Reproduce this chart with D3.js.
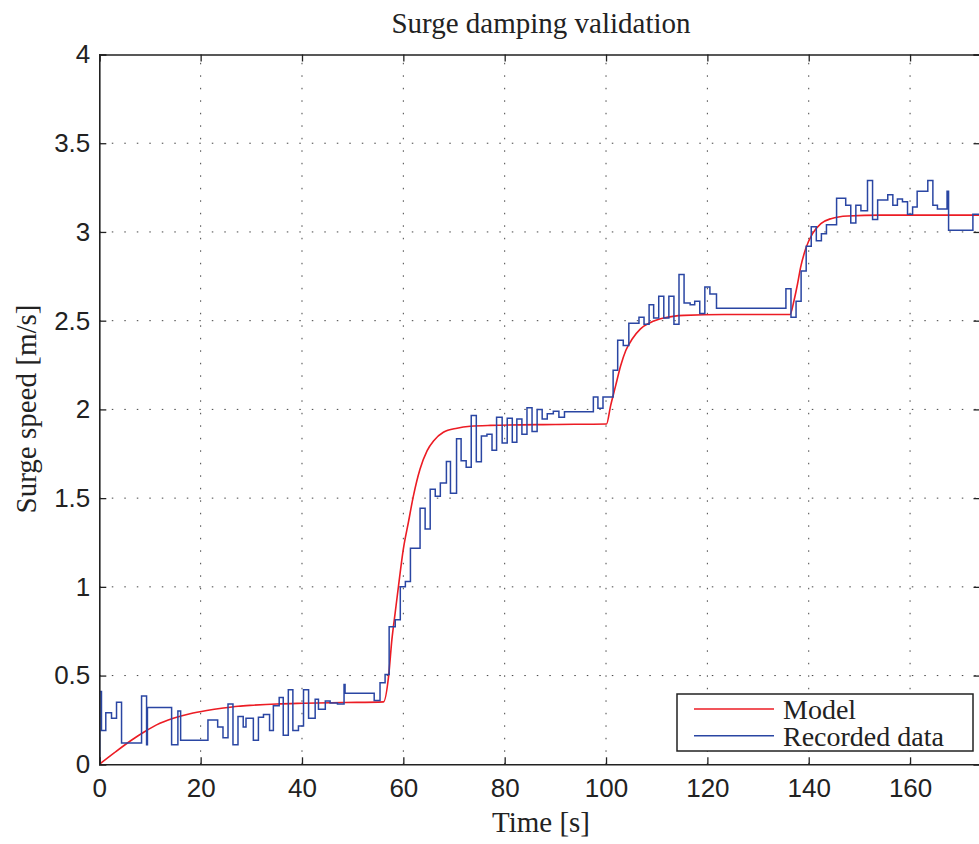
<!DOCTYPE html>
<html>
<head>
<meta charset="utf-8">
<script src="https://cdn.jsdelivr.net/npm/d3@7"></script>
<style>
	body { margin: 0; background: #fff; }
	.serif { font-family: "Liberation Serif", serif; font-size: 29px; fill: #222; }
	.legend-text { font-size: 28px; }
	.tick text { font-family: "Liberation Sans", Arial, sans-serif; font-size: 26px; fill: #222; }
</style>
</head>
<body>
<svg class="chart"></svg>
<script>

// time [s] and speed [m/s] of the model response
var modelTime = [0, 3, 6.4, 9, 11.3, 14.6, 17.9, 21.2, 24.5, 27.4, 30.4, 35, 40.3, 48, 56.1,
	57.1, 57.75, 58.4, 59.05, 60, 61, 62, 63.3, 64.7, 66, 67.9, 70.6, 73.2, 77.2, 90, 100.1,
	100.9, 101.9, 102.9, 103.9, 105.2, 106.8, 108.8, 111.4, 115.4, 123.3, 136.3,
	137.1, 137.8, 138.4, 139.4, 140.75, 142.4, 144.4, 147.7, 154.2, 173.9];
var modelSpeed = [0, 0.066, 0.137, 0.185, 0.222, 0.259, 0.285, 0.303, 0.317, 0.327, 0.333, 0.34, 0.344, 0.348, 0.352,
	0.498, 0.705, 0.856, 1.006, 1.213, 1.364, 1.514, 1.664, 1.768, 1.824, 1.871, 1.894, 1.905, 1.91, 1.915, 1.918,
	2.02, 2.134, 2.247, 2.332, 2.398, 2.454, 2.49, 2.515, 2.53, 2.535, 2.535,
	2.614, 2.708, 2.8, 2.905, 2.99, 3.047, 3.075, 3.09, 3.095, 3.095];

// recorded data, held constant between samples
var recTime = [0, 0.1, 0.43, 1.28, 2.41, 3.4, 4.39, 8.34, 9.33, 9.5, 14.27, 15.51, 16.05, 21.44, 23.36,
	24.41, 25.4, 26.38, 27.37, 28.4, 28.95, 30.4, 31.4, 32.4, 33.6, 34.35, 35.5, 36.3, 37.3, 38.2,
	39.3, 40.3, 41.3, 42.6, 43.25, 44.6, 45.55, 47, 48.3, 48.5, 54.25, 55.4, 56.4, 57.2, 58.4,
	59.4, 60.4, 61.4, 63.3, 64.3, 65.3, 66.3, 67.3, 68.5, 69.3, 70.5, 71.4, 72.4, 73.4, 74.4,
	75.4, 76.5, 77.5, 78.4, 79.5, 80.5, 81.5, 82.4, 83.4, 84.4, 85.4, 86.4, 87.4, 88.4, 89.6,
	90.7, 91.8, 97.5, 98.4, 99.4, 101.4, 102.3, 103.4, 104.5, 106.5, 107.5, 108.5, 109.4, 110.4,
	111.4, 112.4, 113.4, 114.4, 115.4, 116.6, 117.5, 118.5, 119.5, 120.5, 121.8, 135.5, 136.5,
	137.5, 138.5, 139.5, 140.5, 141.5, 142.5, 143.5, 145.5, 147.3, 148.3, 149.3, 150.3, 151.6,
	152.6, 153.6, 154.6, 155.6, 156.6, 157.5, 158.5, 159.5, 160.5, 161.4, 162.5, 163.5, 164.5,
	165.4, 167.3, 167.6, 172.4, 173.9];
var recSpeed = [0, 0.41, 0.19, 0.29, 0.26, 0.35, 0.12, 0.385, 0.11, 0.32, 0.11, 0.3, 0.135, 0.25, 0.21,
	0.15, 0.34, 0.11, 0.27, 0.21, 0.26, 0.135, 0.265, 0.28, 0.19, 0.33, 0.376, 0.164, 0.42, 0.19,
	0.216, 0.42, 0.26, 0.366, 0.31, 0.357, 0.345, 0.34, 0.45, 0.4, 0.36, 0.46, 0.506, 0.775, 0.814,
	1.0, 1.03, 1.217, 1.443, 1.326, 1.55, 1.51, 1.585, 1.706, 1.527, 1.834, 1.711, 1.674, 1.965, 1.705,
	1.85, 1.86, 1.77, 1.956, 1.81, 1.95, 1.815, 1.946, 1.86, 2.01, 1.875, 2.0, 1.946, 1.975, 1.99,
	1.956, 1.987, 2.07, 2.007, 2.07, 2.22, 2.39, 2.36, 2.485, 2.52, 2.48, 2.59, 2.515, 2.637,
	2.515, 2.637, 2.48, 2.76, 2.6, 2.59, 2.61, 2.54, 2.69, 2.65, 2.57, 2.68, 2.52,
	2.61, 2.78, 2.92, 3.03, 2.95, 2.99, 3.04, 3.19, 3.15, 3.05, 3.15, 3.12, 3.29,
	3.07, 3.18, 3.18, 3.21, 3.15, 3.185, 3.17, 3.1, 3.14, 3.23, 3.23, 3.29, 3.15,
	3.13, 3.23, 3.01, 3.1, 3.08];

var xTicks = [0, 20, 40, 60, 80, 100, 120, 140, 160];
var yTicks = [0, 0.5, 1, 1.5, 2, 2.5, 3, 3.5, 4];
var seriesNames = ["Model", "Recorded data"];
var seriesColors = ["#ec1c24", "#2a46a3"];

var chartWidth = 979, chartHeight = 844;
var plotLeft = 99.3, plotRight = 980.5, plotTop = 54.5, plotBottom = 764.3;

var svg = d3.select(".chart").attr("width", chartWidth).attr("height", chartHeight);

var x = d3.scaleLinear().domain([0, 173.9]).range([plotLeft, plotRight]);
var y = d3.scaleLinear().domain([0, 4]).range([plotBottom, plotTop]);

svg.append("defs").append("clipPath").attr("id", "plotClip")
		.append("rect").attr("x", plotLeft).attr("y", plotTop)
		.attr("width", plotRight - plotLeft).attr("height", plotBottom - plotTop);

// dotted grid
svg.append("g").selectAll("line").data(xTicks.slice(1)).enter().append("line")
		.attr("x1", function(d) { return x(d); }).attr("x2", function(d) { return x(d); })
		.attr("y1", plotBottom).attr("y2", plotTop)
		.attr("stroke", "#444").attr("stroke-width", 1).attr("stroke-dasharray", "1.5,11");
svg.append("g").selectAll("line").data(yTicks.slice(1, -1)).enter().append("line")
		.attr("y1", function(d) { return y(d); }).attr("y2", function(d) { return y(d); })
		.attr("x1", plotLeft).attr("x2", plotRight)
		.attr("stroke", "#444").attr("stroke-width", 1).attr("stroke-dasharray", "1.5,11");

// data
var model = d3.zip(modelTime, modelSpeed);
var rec = d3.zip(recTime, recSpeed);

var plot = svg.append("g").attr("clip-path", "url(#plotClip)");

plot.append("path").datum(model)
		.attr("fill", "none").attr("stroke", seriesColors[0]).attr("stroke-width", 1.6)
		.attr("d", d3.line().curve(d3.curveMonotoneX).x(function(d) { return x(d[0]); }).y(function(d) { return y(d[1]); }));

plot.append("path").datum(rec)
		.attr("fill", "none").attr("stroke", seriesColors[1]).attr("stroke-width", 1.5)
		.attr("d", d3.line().curve(d3.curveStepAfter).x(function(d) { return x(d[0]); }).y(function(d) { return y(d[1]); }));

// axes with inward ticks
var axisB = svg.append("g").attr("transform", "translate(0," + plotBottom + ")")
		.call(d3.axisBottom(x).tickValues(xTicks).tickSize(-7).tickPadding(14).tickFormat(d3.format("d")));
var axisT = svg.append("g").attr("transform", "translate(0," + plotTop + ")")
		.call(d3.axisTop(x).tickValues(xTicks).tickSize(-7).tickFormat(""));
var axisL = svg.append("g").attr("transform", "translate(" + plotLeft + ",0)")
		.call(d3.axisLeft(y).tickValues(yTicks).tickSize(-7).tickPadding(9).tickFormat(function(d) { return d; }));
var axisR = svg.append("g").attr("transform", "translate(" + plotRight + ",0)")
		.call(d3.axisRight(y).tickValues(yTicks).tickSize(-7).tickFormat(""));

[axisB, axisT, axisL, axisR].forEach(function(a) {
	a.select(".domain").attr("stroke", "#222").attr("stroke-width", 1.6);
	a.selectAll(".tick line").attr("stroke", "#222").attr("stroke-width", 1.3);
});
axisB.selectAll(".tick text").attr("dy", "0.71em");

// titles
svg.append("text").attr("class", "serif").attr("x", 541).attr("y", 33)
		.attr("text-anchor", "middle").text("Surge damping validation");
svg.append("text").attr("class", "serif").attr("x", 541).attr("y", 832)
		.attr("text-anchor", "middle").text("Time [s]");
svg.append("text").attr("class", "serif")
		.attr("transform", "translate(36,409) rotate(-90)")
		.attr("text-anchor", "middle").text("Surge speed [m/s]");

// legend
var legend = svg.append("g");
legend.append("rect").attr("x", 677).attr("y", 694).attr("width", 296).attr("height", 57)
		.attr("fill", "#fff").attr("stroke", "#222").attr("stroke-width", 1.5);
seriesNames.forEach(function(name, i) {
	var ly = 709 + i * 26.7;
	legend.append("line").attr("x1", 694).attr("x2", 774).attr("y1", ly).attr("y2", ly)
			.attr("stroke", seriesColors[i]).attr("stroke-width", 1.6);
	legend.append("text").attr("class", "serif legend-text").attr("x", 783).attr("y", ly + 10).text(name);
});

</script>
</body>
</html>
